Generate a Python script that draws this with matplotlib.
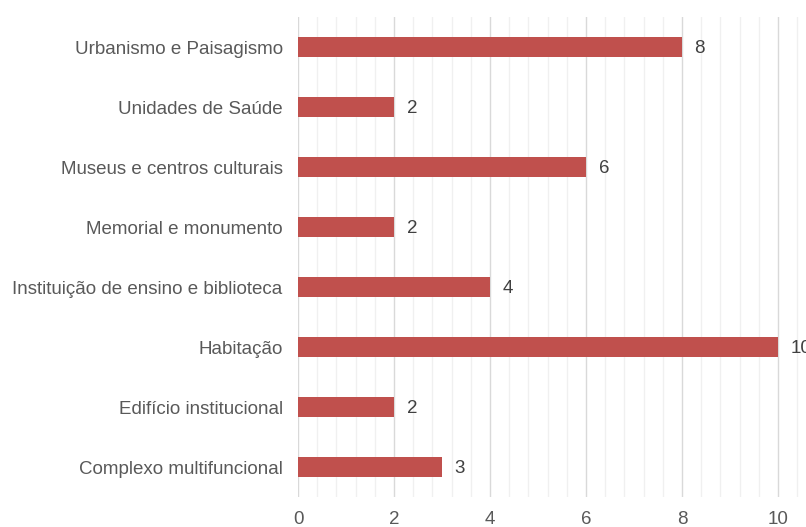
import matplotlib.pyplot as plt
from matplotlib.ticker import MultipleLocator

categories = ['Complexo multifuncional', 'Edifício institucional', 'Habitação',
              'Instituição de ensino e biblioteca', 'Memorial e monumento',
              'Museus e centros culturais', 'Unidades de Saúde',
              'Urbanismo e Paisagismo']
counts = [3, 2, 10, 4, 2, 6, 2, 8]

plt.rcParams['font.family'] = ['Liberation Sans', 'DejaVu Sans']

fig = plt.figure(figsize=(8.06, 5.27), dpi=100)
ax = fig.add_axes([298 / 806, 30 / 527, 1 - 298 / 806, 480 / 527])

y = range(len(categories))
bars = ax.barh(y, counts, height=0.32, color='#c0504d', zorder=3)

for rect, v in zip(bars, counts):
    ax.annotate(str(v), xy=(rect.get_width(), rect.get_y() + rect.get_height() / 2),
                xytext=(9, -1), textcoords='offset points', va='center', ha='left',
                fontsize=13.5, color='#404040')

ax.set_xlim(0, 508 / 48)
ax.set_ylim(-0.5, 7.5)
ax.set_yticks(list(y))
ax.set_yticklabels(categories, fontsize=13.5, color='#595959')
ax.xaxis.set_major_locator(MultipleLocator(2))
ax.xaxis.set_minor_locator(MultipleLocator(0.4))
ax.tick_params(axis='x', which='both', length=0, labelsize=13.5, labelcolor='#595959', pad=10)
ax.tick_params(axis='y', length=0, pad=11)
ax.grid(axis='x', which='major', color='#d9d9d9', linewidth=1, zorder=0)
ax.grid(axis='x', which='minor', color='#f0f0f0', linewidth=1, zorder=0)
for s in ax.spines.values():
    s.set_visible(False)

fig.savefig('out.png', dpi=100)
